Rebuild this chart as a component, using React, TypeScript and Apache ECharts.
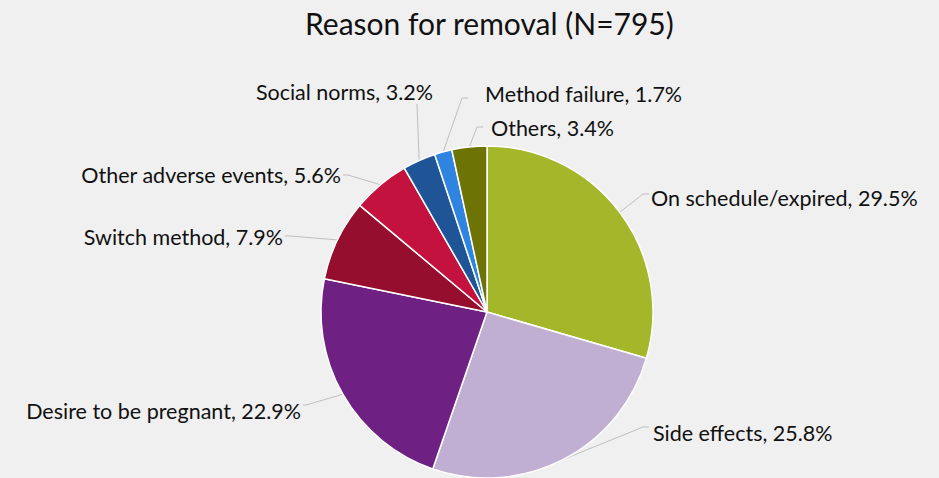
import React, { useEffect, useRef } from "react";
import * as echarts from "echarts";

const categories = [
  "On schedule/expired",
  "Side effects",
  "Desire to be pregnant",
  "Switch method",
  "Other adverse events",
  "Social norms",
  "Method failure",
  "Others",
];
const values = [29.5, 25.8, 22.9, 7.9, 5.6, 3.2, 1.7, 3.4];
const colors = ["#a4b72b", "#c0aed3", "#6f2083", "#960e2d", "#c4123e", "#1f5597", "#2f84e0", "#6e7305"];

// label anchor layout: [x, y, align, bendX, bendY, endX, endY]
const labelPos: [number, number, string, number, number, number, number][] = [
  [651, 198, "left", 643, 194, 649, 194],
  [653, 433, "left", 643, 427, 649, 427],
  [301, 411, "right", 306, 405, 303, 405],
  [283, 237, "right", 290, 236, 285, 236],
  [341, 175, "right", 348, 175, 343, 175],
  [433, 92, "right", 417, 104, 417, 104],
  [485, 94, "left", 462, 98, 468, 98],
  [491, 128, "left", 477, 127, 483, 127],
];

export default function App() {
  const ref = useRef<HTMLDivElement>(null);
  useEffect(() => {
    if (!ref.current) return;
    const chart = echarts.init(ref.current, null, { renderer: "svg" });
    chart.setOption({
      animation: false,
      backgroundColor: "#f0f0f0",
      title: {
        text: "Reason for removal (N=795)",
        left: 300,
        top: 3,
        textStyle: { fontFamily: "Lato", fontSize: 30, fontWeight: "normal", color: "#111" },
      },
      series: [
        {
          type: "pie",
          center: [487, 312],
          radius: 166,
          startAngle: 90,
          clockwise: true,
          data: categories.map((c, i) => ({ name: c, value: values[i], itemStyle: { color: colors[i] } })),
          itemStyle: { borderColor: "#ffffff", borderWidth: 1.5 },
          label: {
            show: true,
            formatter: (p: any) => `${p.name}, ${p.value.toFixed(1)}%`,
            fontFamily: "Lato",
            fontSize: 21.5,
            color: "#111",
            overflow: "none",
            width: 400,
          },
          labelLine: { show: true, lineStyle: { color: "#bfbfbf", width: 1 } },
          labelLayout: (params: any) => {
            const lp = labelPos[params.dataIndex];
            const start = params.labelLinePoints ? params.labelLinePoints[0] : [lp[3], lp[4]];
            return {
              x: lp[0],
              y: lp[1],
              align: lp[2],
              verticalAlign: "middle",
              labelLinePoints: [start, [lp[3], lp[4]], [lp[5], lp[6]]],
            };
          },
        },
      ],
    });
    return () => chart.dispose();
  }, []);
  return <div ref={ref} style={{ position: "fixed", left: 0, top: 0, width: 939, height: 478 }} />;
}
